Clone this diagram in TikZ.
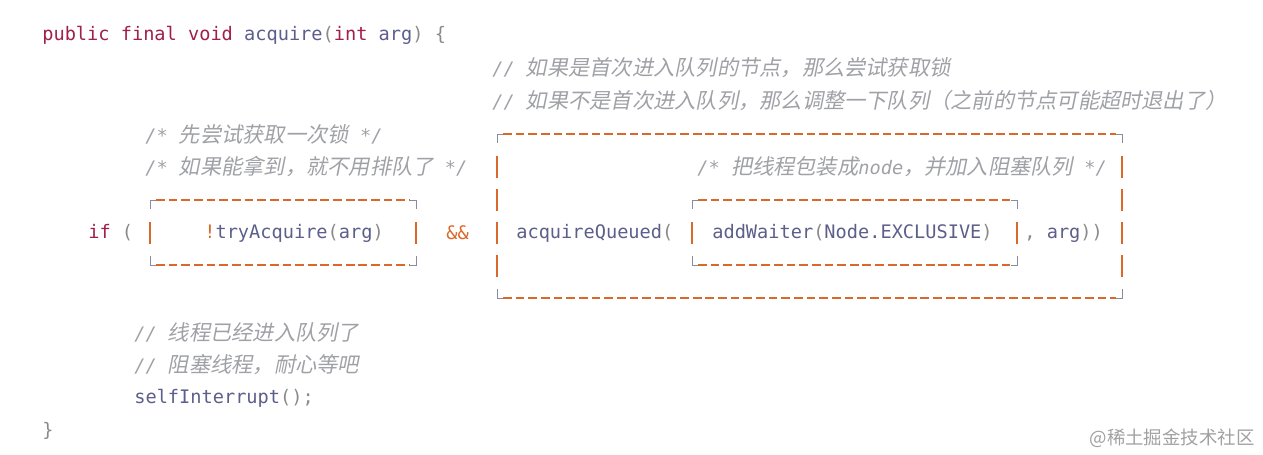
\documentclass[tikz,border=0pt]{standalone}
\usepackage{fontspec}
\setmonofont{DejaVu Sans Mono}
\newfontfamily\cjk{Noto Sans CJK SC}
\newfontfamily\cjkit[FakeSlant=0.2, Scale=1.14]{Noto Sans CJK SC}
\usetikzlibrary{positioning}
\definecolor{kw}{HTML}{A0204A}
\definecolor{ident}{HTML}{5C5F8A}
\definecolor{punct}{HTML}{8A8A8A}
\definecolor{cmt}{HTML}{A0A1A7}
\definecolor{ora}{HTML}{D9692A}
\definecolor{corner}{HTML}{8A8AA0}
\newcommand{\kwd}[1]{\textcolor{kw}{#1}}
\newcommand{\pun}[1]{\textcolor{punct}{#1}}
\newcommand{\hz}[1]{{\cjkit #1}}
\tikzset{
  code/.style={anchor=west, inner sep=0pt, text=ident, font=\ttfamily\fontsize{10.6}{12}\selectfont},
  comment/.style={code, text=cmt, font=\ttfamily\itshape\fontsize{10.6}{12}\selectfont},
  dashbox/.style={ora, thick, dash pattern=on 5pt off 2.2pt},
  bar/.style={ora, thick},
  crn/.style={corner, thin}
}
\newcommand{\dbox}[4]{% left, top, right, bottom
  \draw[dashbox] (#1+6,#2) -- (#3-6,#2);
  \draw[dashbox] (#1+6,#4) -- (#3-6,#4);
  \draw[crn] (#1,#2+9) -- (#1,#2) -- (#1+6,#2);
  \draw[crn] (#3-6,#2) -- (#3,#2) -- (#3,#2+9);
  \draw[crn] (#1,#4-9) -- (#1,#4) -- (#1+6,#4);
  \draw[crn] (#3-6,#4) -- (#3,#4) -- (#3,#4-9);
}
\begin{document}
\begin{tikzpicture}[x=0.02cm, y=-0.02cm]
  \useasboundingbox (0,0) rectangle (1263,455);
  % header
  \node[code] (head) at (42,35) {\kwd{public final void} acquire\pun{(}\kwd{int} arg\pun{) \{}};
  % comments on the right
  \node[comment] (c1) at (492,68) {// \hz{如果是首次进入队列的节点，那么尝试获取锁}};
  \node[comment] (c2) at (492,101) {// \hz{如果不是首次进入队列，那么调整一下队列（之前的节点可能超时退出了）}};
  \node[comment] (c3) at (145,134) {/* \hz{先尝试获取一次锁} */};
  \node[comment] (c4) at (145,167) {/* \hz{如果能拿到，就不用排队了} */};
  \node[comment] (c5) at (697,167) {/* \hz{把线程包装成}node\hz{，并加入阻塞队列} */};
  % condition line
  \node[code] (if) at (88,233) {\kwd{if} \pun{(}};
  \node[code] (try) at (204,233) {\textcolor{ora}{!}tryAcquire\pun{(}arg\pun{)}};
  \node[code, text=ora] (and) at (446,233) {\&\&};
  \node[code] (aq) at (516,233) {acquireQueued\pun{(}};
  \node[code] (aw) at (712,233) {addWaiter\pun{(}Node.EXCLUSIVE\pun{)}};
  \node[code] (rest) at (1024,233) {\pun{,} arg\pun{))}};
  % boxes
  \dbox{150}{200}{416}{265}
  \dbox{692}{200}{1017}{265}
  \dbox{497}{134}{1122}{298}
  \foreach \x in {150,416,692,1017}
    \draw[bar] (\x,222) -- (\x,244);
  \foreach \x in {497,1122}
    \foreach \y in {167,200,233,266}
      \draw[bar] (\x,\y-11) -- (\x,\y+11);
  % body
  \node[comment] (c6) at (134,332) {// \hz{线程已经进入队列了}};
  \node[comment] (c7) at (134,365) {// \hz{阻塞线程，耐心等吧}};
  \node[code] (self) at (134,398) {selfInterrupt\pun{();}};
  \node[code, text=punct] (close) at (42,431) {\}};
  \node[anchor=east, inner sep=0pt, text=punct!80, font=\cjk\fontsize{10.5}{12}\selectfont] (mark) at (1255,438) {@稀土掘金技术社区};
\end{tikzpicture}
\end{document}
